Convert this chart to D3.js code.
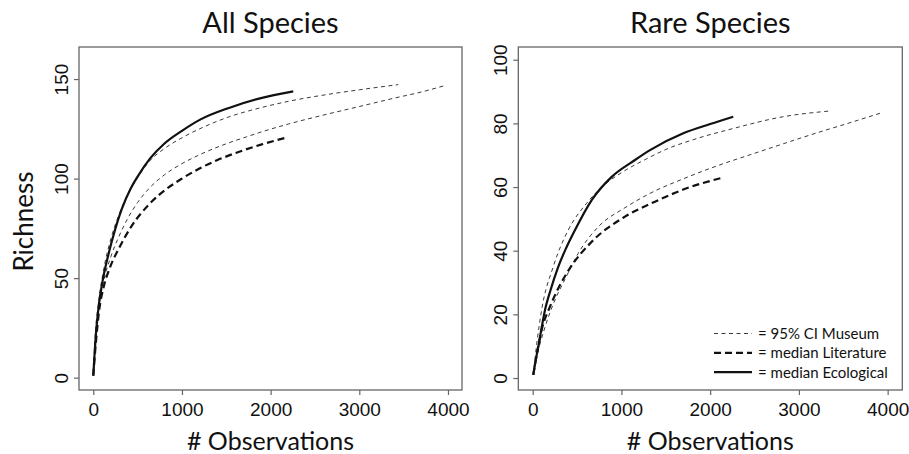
<!DOCTYPE html>
<html>
<head>
<meta charset="utf-8">
<script src="https://cdn.jsdelivr.net/npm/d3@7"></script>
<style>
  html, body { margin: 0; padding: 0; background: #fff; }
  svg { display: block; font-family: Lato, "Open Sans", sans-serif; }
</style>
</head>
<body>
<svg id="chart" width="909" height="454"></svg>
<script>
/* rarefaction curves, two panels (all species / rare species), R base-graphics look */

// ---- data: [observations, richness] ----
var allMuseumHi = [[0, 1], [20, 20], [60, 38], [120, 55], [200, 70], [282, 81], [400, 93], [500, 100.5],
  [639, 109], [800, 115], [1000, 120.5], [1200, 125], [1530, 131], [1880, 135.5], [2200, 138.8],
  [2632, 142.2], [3000, 144.6], [3439, 147.2]];
var allMuseumLo = [[0, 1], [20, 16], [60, 34], [120, 49], [200, 61], [290, 71], [365, 78], [500, 88],
  [639, 95.5], [800, 101.8], [1000, 107.5], [1200, 112], [1500, 117.5], [1730, 121], [1880, 123.2],
  [2200, 127.4], [2632, 132.3], [3000, 136.2], [3383, 140.3], [3700, 143.5], [3947, 146.5]];
var allLiterature = [[0, 1], [30, 18], [64, 33], [120, 46], [185, 55], [290, 65], [430, 76], [628, 87],
  [752, 92.2], [1000, 100], [1203, 105.2], [1400, 109.3], [1654, 113.6], [1900, 117.2], [2162, 120.4]];
var allEcological = [[0, 1], [30, 22], [64, 37], [120, 52], [177, 63], [250, 75], [320, 84.5], [422, 95],
  [500, 101], [639, 110], [800, 117.5], [1000, 124], [1200, 129.5], [1530, 135.5], [1880, 140.3],
  [2255, 143.8]];

var rareMuseumHi = [[7, 1], [30, 7], [101, 21.4], [232, 35], [401, 46.5], [608, 54.9], [800, 60.5],
  [1000, 64.5], [1265, 68.6], [1500, 71.8], [1800, 74.8], [2260, 78.4], [2824, 82.1], [3350, 83.9]];
var rareMuseumLo = [[7, 1], [50, 7], [139, 16], [251, 24.5], [364, 31], [514, 39.2], [739, 47.5],
  [1040, 53.5], [1322, 58], [1716, 62.8], [2073, 66.6], [2500, 70.6], [2824, 73.6], [3200, 77],
  [3575, 80.2], [3950, 83.5]];
var rareLiterature = [[7, 1], [50, 8], [101, 15.1], [195, 22.4], [289, 28.2], [420, 34.5], [665, 42.8],
  [1040, 50.7], [1378, 55.4], [1735, 59.6], [2148, 63]];
var rareEcological = [[7, 1], [30, 5], [63, 9.8], [139, 21.4], [200, 27.5], [289, 35], [380, 41], [477, 46.5],
  [665, 55.9], [890, 63.2], [1153, 68.5], [1322, 71.6], [1697, 76.9], [2000, 79.8], [2260, 82.1]];

var xTicks = [0, 1000, 2000, 3000, 4000];
var yTicksAll = [0, 50, 100, 150];
var yTicksRare = [0, 20, 40, 60, 80, 100];
var legendLabels = ["= 95% CI Museum", "= median Literature", "= median Ecological"];

// ---- line styles ----
var STYLES = {
  museum: { w: 1, dash: "4,3.5", col: "#3a3a3a" },
  lit: { w: 2.2, dash: "7,4", col: "#111" },
  eco: { w: 2.2, dash: null, col: "#111" }
};
var BOX = "#666", INK = "#111";

var svg = d3.select("#chart");

function panel(o) {
  var x = d3.scaleLinear().domain(o.xd).range([o.l, o.r]);
  var y = d3.scaleLinear().domain(o.yd).range([o.b, o.t]);
  var g = svg.append("g");
  var line = d3.line().x(function (d) { return x(d[0]); }).y(function (d) { return y(d[1]); }).curve(d3.curveMonotoneX);

  o.series.forEach(function (s) {
    var st = STYLES[s.kind];
    g.append("path").attr("d", line(s.data)).attr("fill", "none")
      .attr("stroke", st.col).attr("stroke-width", st.w)
      .attr("stroke-dasharray", st.dash);
  });

  // box
  g.append("rect").attr("x", o.l).attr("y", o.t).attr("width", o.r - o.l).attr("height", o.b - o.t)
    .attr("fill", "none").attr("stroke", BOX).attr("stroke-width", 1.3);

  // x axis
  var xa = g.append("g").attr("transform", "translate(0," + o.b + ")")
    .call(d3.axisBottom(x).tickValues(xTicks).tickSize(5).tickPadding(8).tickFormat(d3.format("d")));
  xa.select(".domain").remove();
  xa.selectAll("line").attr("stroke", BOX).attr("stroke-width", 1.2);
  xa.selectAll("text").attr("font-family", null).attr("font-size", 19).attr("fill", INK);

  // y axis, labels parallel to the axis like R
  var ya = g.append("g").attr("transform", "translate(" + o.l + ",0)")
    .call(d3.axisLeft(y).tickValues(o.yTicks).tickSize(5).tickFormat(d3.format("d")));
  ya.select(".domain").remove();
  ya.selectAll("line").attr("stroke", BOX).attr("stroke-width", 1.2);
  ya.selectAll("text").attr("font-family", null).attr("font-size", 19).attr("fill", INK)
    .attr("x", null).attr("dy", null).attr("text-anchor", "middle")
    .attr("transform", "translate(-11,0) rotate(-90)");

  // titles
  g.append("text").attr("x", (o.l + o.r) / 2).attr("y", 33).attr("text-anchor", "middle")
    .attr("font-size", 29).attr("fill", INK).text(o.title);
  g.append("text").attr("x", (o.l + o.r) / 2).attr("y", 450).attr("text-anchor", "middle")
    .attr("font-size", 25).attr("fill", INK).text("# Observations");
  if (o.ylab) {
    g.append("text").attr("transform", "translate(33," + ((o.t + o.b) / 2 + 3) + ") rotate(-90)")
      .attr("text-anchor", "middle").attr("font-size", 26).attr("fill", INK).text(o.ylab);
  }
  return { g: g, x: x, y: y };
}

panel({
  l: 79, r: 462, t: 47, b: 390, xd: [-161, 4158], yd: [-6.2, 166.1],
  yTicks: yTicksAll, title: "All Species", ylab: "Richness",
  series: [
    { kind: "museum", data: allMuseumHi }, { kind: "museum", data: allMuseumLo },
    { kind: "lit", data: allLiterature }, { kind: "eco", data: allEcological }
  ]
});

panel({
  l: 518.3, r: 902.3, t: 47, b: 390, xd: [-162, 4165], yd: [-3.77, 104],
  yTicks: yTicksRare, title: "Rare Species",
  series: [
    { kind: "museum", data: rareMuseumHi }, { kind: "museum", data: rareMuseumLo },
    { kind: "lit", data: rareLiterature }, { kind: "eco", data: rareEcological }
  ]
});

// legend (bottom-right of the rare panel)
var lg = svg.append("g");
["museum", "lit", "eco"].forEach(function (k, i) {
  var st = STYLES[k], yy = 333.5 + i * 19.3;
  lg.append("line").attr("x1", 714).attr("x2", 752).attr("y1", yy).attr("y2", yy)
    .attr("stroke", st.col).attr("stroke-width", st.w).attr("stroke-dasharray", st.dash);
  lg.append("text").attr("x", 758).attr("y", yy + 5.5).attr("font-size", 15).attr("fill", INK).text(legendLabels[i]);
});
</script>
</body>
</html>
